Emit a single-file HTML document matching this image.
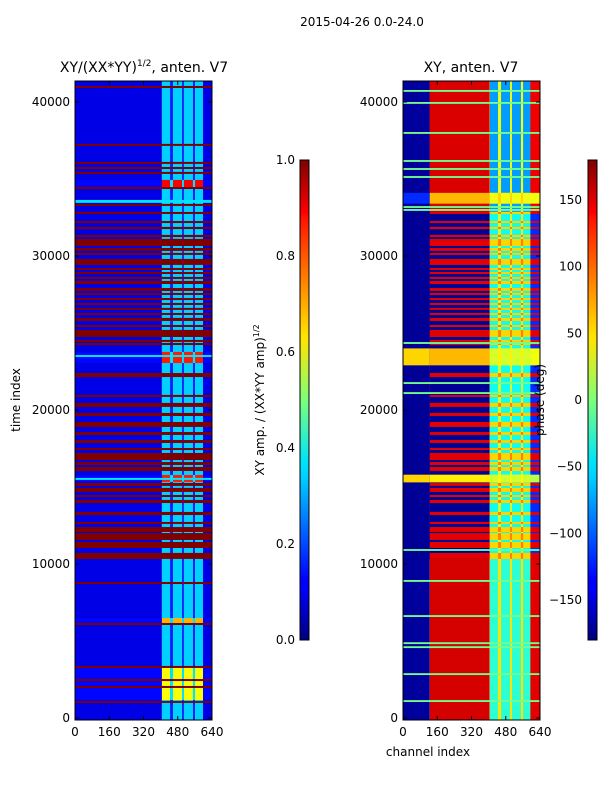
<!DOCTYPE html>
<html><head><meta charset="utf-8">
<style>
html,body{margin:0;padding:0;background:#fff;}
svg{display:block;font-family:"DejaVu Sans","Liberation Sans",sans-serif;}
</style></head>
<body>
<svg id="fig" width="600" height="800" viewBox="0 0 600 800" xmlns="http://www.w3.org/2000/svg">
<defs>
<linearGradient id="jetgrad" x1="0" y1="1" x2="0" y2="0">
<stop offset="0" stop-color="#00007f"/><stop offset="0.11" stop-color="#0000ff"/><stop offset="0.125" stop-color="#0000ff"/>
<stop offset="0.34" stop-color="#00d0ff"/><stop offset="0.375" stop-color="#00e5f7"/>
<stop offset="0.5" stop-color="#7dff7a"/><stop offset="0.625" stop-color="#ffe500"/><stop offset="0.64" stop-color="#ffde00"/>
<stop offset="0.875" stop-color="#ff1700"/><stop offset="0.89" stop-color="#ff0000"/><stop offset="1" stop-color="#7f0000"/>
</linearGradient>
</defs>
<text x="362" y="26" font-size="12" text-anchor="middle">2015-04-26 0.0-24.0</text>
<text x="144" y="72" font-size="14" text-anchor="middle">XY/(XX*YY)<tspan font-size="9" dy="-6">1/2</tspan><tspan dy="6">, anten. V7</tspan></text>
<text x="471" y="72" font-size="14" text-anchor="middle">XY, anten. V7</text>
<g id="leftImg"></g>
<g id="rightImg"></g>
<g id="axes"></g>
<text transform="translate(20,400) rotate(-90)" font-size="12" text-anchor="middle">time index</text>
<text x="428" y="756" font-size="12" text-anchor="middle">channel index</text>
<rect x="300" y="160" width="9" height="480" fill="url(#jetgrad)" stroke="#000" stroke-width="1"/>
<rect x="588" y="160" width="9" height="480" fill="url(#jetgrad)" stroke="#000" stroke-width="1"/>
<text transform="translate(264,400) rotate(-90)" font-size="12" text-anchor="middle">XY amp. / (XX*YY amp)<tspan font-size="8" dy="-5">1/2</tspan></text>
<text transform="translate(544,400) rotate(-90)" font-size="12" text-anchor="middle">phase (deg)</text>
<g id="cbar"></g>
</svg>
<script>
const NS='http://www.w3.org/2000/svg';
// ---- data ----
const timeTicks=[0,10000,20000,30000,40000];
const chanTicks=[0,160,320,480,640];
const ampTicks=[0.0,0.2,0.4,0.6,0.8,1.0];
const phaseTicks=[-150,-100,-50,0,50,100,150];
const stripeStart=[406,458,509,561];
const stripeEnd=[444,500,551,598];
// left amplitude: flagged rows (amp 1.0)
const leftFlags=[[40910,41040],[37150,37280],[35980,36110],[35650,35780],[35330,35460],[34350,34480],[33250,33380],[32730,32860],
[32140,32270],[31750,31890],[31230,31370],[30650,31110],[30330,30520],[30070,30200],[29420,29810],[29090,29220],[28830,28960],
[28510,28640],[28180,28380],[27730,27920],[27470,27600],[27140,27270],[26820,26950],[26500,26630],[26170,26300],[25780,25980],
[25390,25520],[24740,25200],[24420,24550],[24220,24350],[22140,22400],[20850,20980],[20200,20460],[19610,19810],[18900,19220],
[18380,18570],[17860,18050],[17400,17530],[16750,17210],[16430,16620],[16040,16300],[15070,15260],[14680,14940],[14350,14480],
[13960,14160],[13180,13380],[12600,12730],[12080,12400],[11560,12010],[11040,11430],[10330,10720],[8700,8830],[6040,6170],
[3250,3380],[2400,2530],[1950,2080],[980,1100]];
// left bright events: [t0,t1,stripeAmp]
const leftBright=[[34480,34940,0.88],[23050,23770,0.85],[15330,15780,0.85],[6170,6490,0.7],[1170,3250,0.62]];
// rows cyan across all channels
const leftCyan=[[33450,33640],[23440,23570],[15460,15590]];
// quiet amplitudes
const quietLow=0.1, quietStripe=0.33, quietGap=0.16;
// right phase bands: [t0,t1,pLow,pMid,pStripe,pGap,pHigh]
const rightBands=[
[-130,41400,-170,150,-30,55,145],
[31000,41400,-170,148,-80,40,140],
[10330,32860,-172,-172,-40,30,-120],
[33400,34100,-120,70,40,60,40],
[22900,24000,60,70,30,50,40],
[15300,15800,60,50,30,40,20]];
// green (≈0 deg) full rows
const greenRows=[40720,39940,37990,36170,35650,35130,33180,32990,24350,21750,21100,10910,8900,6620,4860,4600,2850,1100];
// ---- scales ----
const L={x0:75,x1:212}, R={x0:403,x1:540};
const tMin=-130,tMax=41360;
function yS(t){return 718-(t)*0.0154;}
function xS(P,c){return P.x0+(c/640)*(P.x1-P.x0);}
function jet(v){v=Math.max(0,Math.min(1,v));const cl=a=>Math.round(255*Math.max(0,Math.min(1,a)));
return `rgb(${cl(1.5-Math.abs(4*v-3))},${cl(1.5-Math.abs(4*v-2))},${cl(1.5-Math.abs(4*v-1))})`;}
function pc(p){return jet((p+180)/360);}
function rect(g,P,c0,c1,t0,t1,fill,name){
  const r=document.createElementNS(NS,'rect');
  const ya=yS(Math.min(t1,tMax)), yb=yS(Math.max(t0,tMin));
  r.setAttribute('x',xS(P,c0));r.setAttribute('width',Math.max(0.5,xS(P,c1)-xS(P,c0)));
  r.setAttribute('y',ya);r.setAttribute('height',Math.max(1,yb-ya));r.setAttribute('fill',fill);
  
  
  g.appendChild(r);
}
const gl=document.getElementById('leftImg'), gr=document.getElementById('rightImg');
function leftRow(t0,t1,low,str,gap){
  rect(gl,L,0,406,t0,t1,jet(low),'amp-cell');
  for(let i=0;i<4;i++){rect(gl,L,stripeStart[i],stripeEnd[i],t0,t1,jet(str),'amp-cell');
    const ge=i<3?stripeStart[i+1]:640; rect(gl,L,stripeEnd[i],ge,t0,t1,jet(i<3?gap:low),'amp-cell');}
}
leftRow(tMin,tMax,quietLow,quietStripe,quietGap);
leftBright.forEach(b=>leftRow(b[0],b[1],quietLow+0.03,b[2],0.35));
leftCyan.forEach(b=>rect(gl,L,0,640,b[0],b[1],jet(0.35),'amp-cell'));
leftFlags.forEach(b=>rect(gl,L,0,640,b[0],b[1],jet(1.0),'amp-flag-row'));
function rightRow(t0,t1,b){
  rect(gr,R,0,125,t0,t1,pc(b[0]),'phase-cell');
  rect(gr,R,125,405,t0,t1,pc(b[1]),'phase-cell');
  rect(gr,R,405,595,t0,t1,pc(b[3]),'phase-cell');
  for(let i=0;i<4;i++) rect(gr,R,stripeStart[i],stripeEnd[i],t0,t1,pc(b[2]),'phase-cell');
  rect(gr,R,595,640,t0,t1,pc(b[4]),'phase-cell');
}
rightBands.forEach(b=>rightRow(b[0],b[1],b.slice(2)));
leftFlags.forEach(b=>{if(b[0]>=10330&&b[1]<=32860) rightRow(b[0],b[1],[-172,145,60,90,145]);});
greenRows.forEach(t=>rect(gr,R,0,640,t-60,t+60,pc(-5),'phase-green-row'));
// ---- axes ----
const ax=document.getElementById('axes');
function line(x1,y1,x2,y2,name){const l=document.createElementNS(NS,'line');
 l.setAttribute('x1',x1);l.setAttribute('y1',y1);l.setAttribute('x2',x2);l.setAttribute('y2',y2);
 l.setAttribute('stroke','#000');l.setAttribute('stroke-width','1');
 
 
 ax.appendChild(l);}
function txt(par,x,y,s,anchor,name){const e=document.createElementNS(NS,'text');
 e.setAttribute('x',x);e.setAttribute('y',y);e.setAttribute('font-size','12');e.setAttribute('text-anchor',anchor);e.textContent=s;
 
 
 par.appendChild(e);}
[L,R].forEach(P=>{
 const f=document.createElementNS(NS,'rect');
 f.setAttribute('x',P.x0);f.setAttribute('y',81);f.setAttribute('width',P.x1-P.x0);f.setAttribute('height',639);
 f.setAttribute('fill','none');f.setAttribute('stroke','#000');
 
 
 ax.appendChild(f);
 timeTicks.forEach(t=>{const y=yS(t);line(P.x0,y,P.x0+4,y,'y-tick');line(P.x1-4,y,P.x1,y,'y-tick');
   txt(ax,P.x0-5,y+4,String(t),'end','y-tick-label');});
 chanTicks.forEach(c=>{const x=xS(P,c);line(x,720,x,716,'x-tick');line(x,81,x,85,'x-tick');
   txt(ax,x,736,String(c),'middle','x-tick-label');});
});
const cb=document.getElementById('cbar');
ampTicks.forEach(v=>{const y=640-v*480;txt(cb,295,y+4,v.toFixed(1),'end','amp-tick-label');
 line(300,y,303,y,'cbar-tick');line(306,y,309,y,'cbar-tick');});
phaseTicks.forEach(p=>{const y=400-p*480/360;txt(cb,582,y+4,p<0?'\u2212'+(-p):String(p),'end','phase-tick-label');
 line(588,y,591,y,'cbar-tick');line(594,y,597,y,'cbar-tick');});
</script>
</body></html>
